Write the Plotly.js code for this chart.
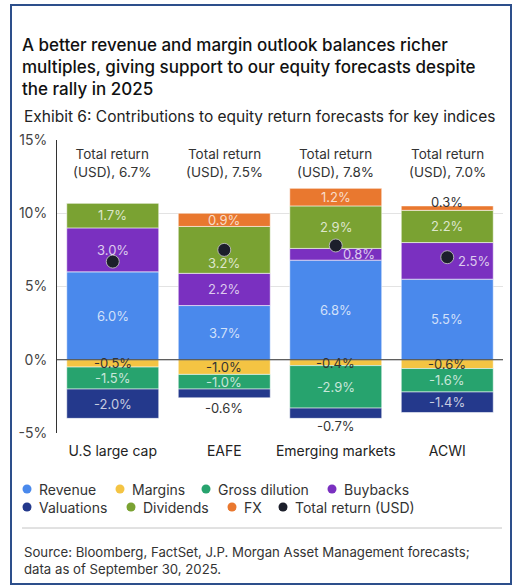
<!DOCTYPE html>
<html>
<head>
<meta charset="utf-8">
<script src="https://cdn.plot.ly/plotly-3.0.1.min.js"></script>
<style>
  html, body { margin: 0; padding: 0; background: #fff; }
  #wrap { position: relative; width: 516px; height: 588px; }
  #frame { position: absolute; box-sizing: border-box; left: 10px; top: 4px; width: 502px; height: 581px;
           border: 2px solid #2d4f8b; pointer-events: none; }
</style>
</head>
<body>
<div id="wrap">
  <div id="chart" style="width:516px;height:588px;"></div>
  <div id="frame"></div>
</div>
<script>
// values (percentage points)
const categories = ['U.S large cap', 'EAFE', 'Emerging markets', 'ACWI'];
const revenue = [6.0, 3.7, 6.8, 5.5];
const margins = [-0.5, -1.0, -0.4, -0.6];
const grossDilution = [-1.5, -1.0, -2.9, -1.6];
const buybacks = [3.0, 2.2, 0.8, 2.5];
const valuations = [-2.0, -0.6, -0.7, -1.4];
const dividends = [1.7, 3.2, 2.9, 2.2];
const fx = [0, 0.9, 1.2, 0.3];
const totalReturn = [6.7, 7.5, 7.8, 7.0];

const series = [
  {name: 'Revenue', values: revenue, color: '#4a89ec'},
  {name: 'Margins', values: margins, color: '#f4c443'},
  {name: 'Gross dilution', values: grossDilution, color: '#27a36e'},
  {name: 'Buybacks', values: buybacks, color: '#7a30c0'},
  {name: 'Valuations', values: valuations, color: '#24398c'},
  {name: 'Dividends', values: dividends, color: '#7aa232'},
  {name: 'FX', values: fx, color: '#e9782f'}
];
const dotColor = '#1c1f2b';
const font = 'Inter, "Noto Sans", sans-serif';

// plot area in pixels, used to place the paper-anchored text
const L = 57, R = 503, T = 140, B = 433;
const px = x => (x - L) / (R - L);
const py = y => (B - y) / (B - T);

// labels that sit off-centre in the original
const nudge = {
  'Dividends|EAFE': {yshift: -13},
  'Buybacks|Emerging markets': {xshift: 23},
  'Buybacks|ACWI': {xshift: 27},
  'FX|ACWI': {outside: true, yshift: 4},
  'Valuations|EAFE': {outside: true, yshift: -10},
  'Valuations|Emerging markets': {outside: true, yshift: -8}
};

const data = series.map(s => ({
  type: 'bar',
  name: s.name,
  x: categories,
  y: s.values,
  marker: {color: s.color, line: {color: 'rgba(255,255,255,0.55)', width: 1}},
  hoverinfo: 'name+y',
  showlegend: false
}));

data.push({
  type: 'scatter',
  mode: 'markers',
  name: 'Total return (USD)',
  x: categories,
  y: totalReturn,
  marker: {color: dotColor, size: 13, line: {color: 'rgba(190,190,190,0.9)', width: 1}},
  showlegend: false
});

const annotations = [];

// segment labels
categories.forEach((cat, i) => {
  let pos = 0, neg = 0;
  series.forEach(s => {
    const v = s.values[i];
    if (!v) return;
    let mid, edge;
    if (v > 0) { mid = pos + v / 2; pos += v; edge = pos; }
    else { mid = neg + v / 2; neg += v; edge = neg; }
    const n = nudge[s.name + '|' + cat] || {};
    const dark = n.outside || s.name === 'Margins';
    annotations.push({
      x: cat, y: n.outside ? edge : mid,
      text: v.toFixed(1) + '%',
      showarrow: false,
      xshift: n.xshift || 0, yshift: n.yshift || 0,
      font: {family: font, size: 13, color: dark ? '#333' : 'rgba(255,255,255,0.75)'}
    });
  });
  annotations.push({
    x: cat, y: 13.45,
    text: 'Total return<br>(USD), ' + totalReturn[i].toFixed(1) + '%',
    showarrow: false,
    font: {family: font, size: 13.5, color: '#333'}
  });
});

// subtitle and source
annotations.push({
  xref: 'paper', yref: 'paper', x: px(22), y: py(117), xanchor: 'left', yanchor: 'middle',
  text: 'Exhibit 6: Contributions to equity return forecasts for key indices',
  showarrow: false, font: {family: font, size: 15.5, color: '#222'}
});
annotations.push({
  xref: 'paper', yref: 'paper', x: px(22), y: py(560), xanchor: 'left', yanchor: 'middle', align: 'left',
  text: 'Source: Bloomberg, FactSet, J.P. Morgan Asset Management forecasts;<br>data as of September 30, 2025.',
  showarrow: false, font: {family: font, size: 13.2, color: '#333'}
});

// legend built from the series, two rows like the original
const legendItems = series.map(s => ({name: s.name, color: s.color}))
  .concat([{name: 'Total return (USD)', color: dotColor}]);
const legendOrder = ['Revenue', 'Margins', 'Gross dilution', 'Buybacks',
                     'Valuations', 'Dividends', 'FX', 'Total return (USD)'];
const legendX = [27, 120, 206, 332, 27, 131, 232, 283];
const legendY = [489, 489, 489, 489, 507, 507, 507, 507];

const shapes = [
  {type: 'line', xref: 'paper', yref: 'y', x0: 0, x1: 1, y0: 0, y1: 0,
   line: {color: '#333', width: 1}, layer: 'above'},
  {type: 'line', xref: 'paper', yref: 'paper', x0: px(22), x1: px(502), y0: py(528), y1: py(528),
   line: {color: '#c4c4c4', width: 1}}
];

legendOrder.forEach((nm, k) => {
  const item = legendItems.find(d => d.name === nm);
  shapes.push({
    type: 'circle', xref: 'paper', yref: 'paper',
    xsizemode: 'pixel', ysizemode: 'pixel',
    xanchor: px(legendX[k]), yanchor: py(legendY[k]),
    x0: -4.5, x1: 4.5, y0: -4.5, y1: 4.5,
    fillcolor: item.color, line: {width: 0}
  });
  annotations.push({
    xref: 'paper', yref: 'paper', x: px(legendX[k] + 10), y: py(legendY[k]),
    xanchor: 'left', yanchor: 'middle', text: nm, showarrow: false,
    font: {family: font, size: 14, color: '#333'}
  });
});

const layout = {
  width: 516,
  height: 588,
  margin: {l: L, r: 516 - R, t: T, b: 588 - B},
  paper_bgcolor: '#fff',
  plot_bgcolor: '#fff',
  barmode: 'relative',
  bargap: 0.175,
  title: {
    text: 'A better revenue and margin outlook balances richer<br>multiples, giving support to our equity forecasts despite<br>the rally in 2025',
    x: 22 / 516, xanchor: 'left', xref: 'container',
    y: 1 - 51 / 588, yanchor: 'top', yref: 'container',
    font: {family: font, size: 17, weight: 500, color: '#111'}
  },
  xaxis: {
    type: 'category',
    showgrid: false,
    showline: false,
    ticks: '',
    ticklabelstandoff: 8,
    tickfont: {family: font, size: 14, color: '#222'}
  },
  yaxis: {
    range: [-5, 15],
    tickvals: [-5, 0, 5, 10, 15],
    ticktext: ['-5%', '0%', '5%', '10%', '15%'],
    showgrid: true,
    gridcolor: '#e3e3e3',
    zeroline: false,
    showline: true,
    linecolor: '#333',
    linewidth: 1,
    ticks: '',
    ticklabelstandoff: 6,
    tickfont: {family: font, size: 14, color: '#444'}
  },
  annotations: annotations,
  shapes: shapes
};

Plotly.newPlot('chart', data, layout, {displayModeBar: false, staticPlot: true});
</script>
</body>
</html>
